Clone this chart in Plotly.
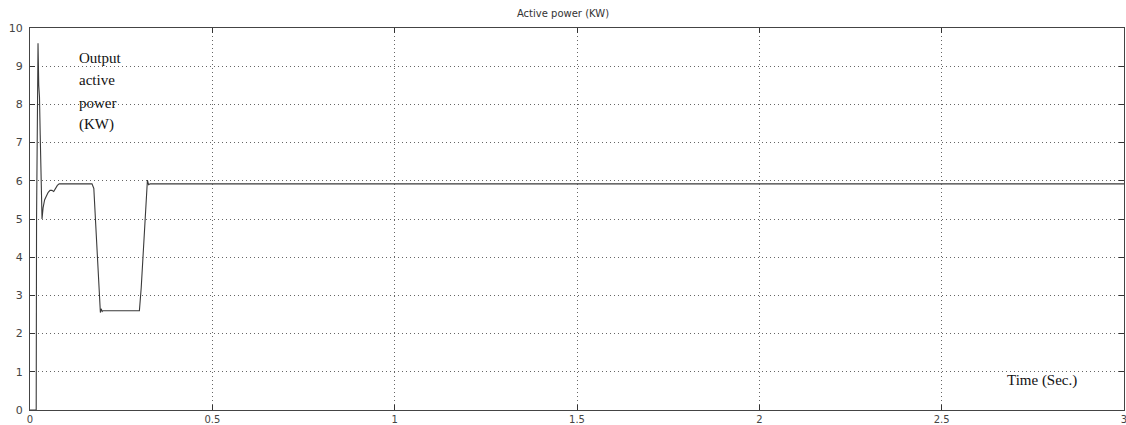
import plotly.graph_objects as go

# Simulated output active power of the inverter (KW) versus time (s)
time_s = [0.0, 0.017, 0.018, 0.020, 0.022, 0.024, 0.026, 0.028, 0.030, 0.033,
          0.036, 0.040, 0.045, 0.050, 0.055, 0.060, 0.065, 0.070, 0.075, 0.080,
          0.090, 0.170, 0.175, 0.185, 0.193, 0.195, 0.198, 0.200, 0.300, 0.305,
          0.315, 0.322, 0.325, 0.330, 3.0]
power_kw = [0.0, 0.0, 5.0, 9.4, 9.6, 8.5, 8.2, 7.2, 6.0, 5.0,
            5.3, 5.5, 5.6, 5.7, 5.75, 5.75, 5.72, 5.8, 5.88, 5.92,
            5.92, 5.92, 5.8, 4.0, 2.55, 2.65, 2.58, 2.6, 2.6, 3.2,
            5.0, 6.02, 5.9, 5.92, 5.92]

x_ticks = [0, 0.5, 1, 1.5, 2, 2.5, 3]
x_labels = ["0", "0.5", "1", "1.5", "2", "2.5", "3"]
y_ticks = list(range(0, 11))

label_lines = ["Output", "active", "power", "(KW)"]

L, R, T, B = 30, 2, 28, 15
W, H = 1126, 425
plot_w = W - L - R
plot_h = H - T - B


def px_to_paper(px, py):
    return (px - L) / plot_w, (H - B - py) / plot_h


fig = go.Figure()
fig.add_trace(go.Scatter(x=time_s, y=power_kw, mode="lines",
                         line=dict(color="#3a3a3a", width=1.1),
                         showlegend=False, hoverinfo="skip"))

axis_common = dict(showline=True, linecolor="#444", linewidth=1, mirror="ticks",
                   ticks="inside", ticklen=5, tickcolor="#333",
                   showgrid=True, gridcolor="#666", griddash="1px,3px", gridwidth=1,
                   zeroline=False, ticklabeloverflow="allow", automargin=False)

fig.update_xaxes(range=[0, 3], tickvals=x_ticks, ticktext=x_labels, ticklabelstandoff=0,
                 tickfont=dict(family="DejaVu Sans", size=10, color="#444"), **axis_common)
fig.update_yaxes(range=[0, 10], tickvals=y_ticks, ticklabelstandoff=4,
                 tickfont=dict(family="DejaVu Sans", size=11, color="#444"), **axis_common)

annotations = []
for i, line in enumerate(label_lines):
    ax, ay = px_to_paper(77, 58 + 22.3 * i)
    annotations.append(dict(text=line, x=ax, y=ay, xref="paper", yref="paper",
                            showarrow=False, xanchor="left", yanchor="middle",
                            font=dict(family="Liberation Serif", size=15, color="#111")))
tx, ty = px_to_paper(1005, 380)
annotations.append(dict(text="Time (Sec.)", x=tx, y=ty, xref="paper", yref="paper",
                        showarrow=False, xanchor="left", yanchor="middle",
                        font=dict(family="Liberation Serif", size=15, color="#111")))

fig.update_layout(
    width=W, height=H,
    margin=dict(l=L, r=R, t=T, b=B),
    paper_bgcolor="white", plot_bgcolor="white",
    title=dict(text="Active power (KW)", x=0.5, xanchor="center",
               y=1 - 13 / H, yanchor="middle", automargin=False,
               font=dict(family="DejaVu Sans", size=10, color="#333")),
    annotations=annotations,
)

fig.write_html("out.html")
